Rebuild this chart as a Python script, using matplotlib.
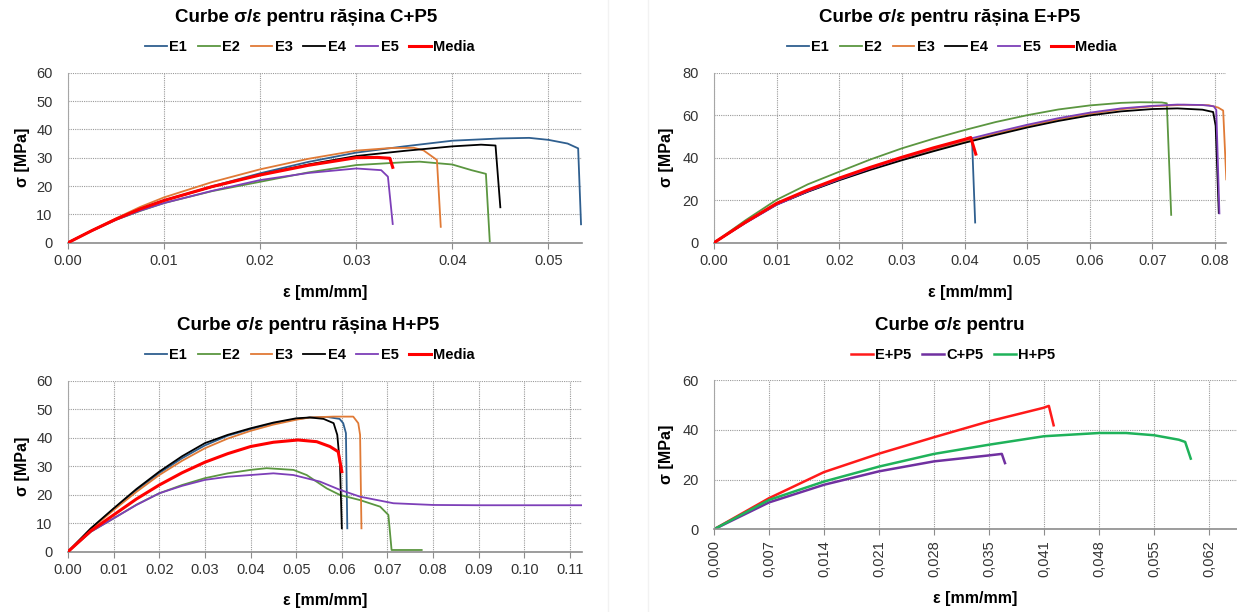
import matplotlib
matplotlib.use('Agg')
import matplotlib.pyplot as plt
from matplotlib.lines import Line2D

plt.rcParams['font.family'] = ['Liberation Sans', 'DejaVu Sans']

# ---------------- C+P5 ----------------
c_e1_x = [0, 0.0025, 0.005, 0.0075, 0.01, 0.015, 0.02, 0.025, 0.03, 0.035, 0.04, 0.045, 0.048, 0.05, 0.052, 0.0531, 0.0534]
c_e1_y = [0, 4.3, 8.4, 12.0, 15.0, 19.9, 24.5, 28.5, 31.8, 34.0, 36.0, 36.8, 37.0, 36.3, 35.0, 33.3, 6.5]
c_e2_x = [0, 0.0025, 0.005, 0.0075, 0.01, 0.015, 0.02, 0.025, 0.03, 0.035, 0.0366, 0.04, 0.042, 0.0435, 0.0439]
c_e2_y = [0, 4.2, 8.1, 11.2, 14.0, 18.2, 21.5, 24.8, 27.4, 28.4, 28.6, 27.6, 25.6, 24.3, 0.5]
c_e3_x = [0, 0.0025, 0.005, 0.0075, 0.01, 0.015, 0.02, 0.025, 0.03, 0.0335, 0.036, 0.037, 0.0384, 0.0388]
c_e3_y = [0, 4.4, 8.6, 12.6, 16.0, 21.4, 25.9, 29.6, 32.5, 33.4, 33.5, 32.6, 29.2, 5.6]
c_e4_x = [0, 0.0025, 0.005, 0.0075, 0.01, 0.015, 0.02, 0.025, 0.03, 0.035, 0.04, 0.043, 0.0445, 0.045]
c_e4_y = [0, 4.3, 8.3, 11.9, 14.9, 19.7, 24.0, 27.6, 30.6, 32.4, 34.0, 34.6, 34.3, 12.5]
c_e5_x = [0, 0.0025, 0.005, 0.0075, 0.01, 0.015, 0.02, 0.025, 0.03, 0.0326, 0.0333, 0.0338]
c_e5_y = [0, 4.2, 8.1, 11.3, 14.0, 18.3, 22.1, 24.6, 26.2, 25.6, 23.3, 6.6]
c_med_x = [0, 0.0025, 0.005, 0.0075, 0.01, 0.015, 0.02, 0.025, 0.03, 0.0322, 0.0335, 0.0338]
c_med_y = [0, 4.3, 8.3, 11.9, 14.9, 19.8, 23.9, 27.3, 30.0, 30.1, 29.8, 26.6]

# ---------------- E+P5 ----------------
e_e1_x = [0, 0.005, 0.01, 0.015, 0.02, 0.025, 0.03, 0.035, 0.04, 0.0412, 0.0417]
e_e1_y = [0, 9.5, 18.0, 24.2, 29.7, 34.7, 39.2, 43.4, 47.3, 48.3, 9.5]
e_e2_x = [0, 0.005, 0.01, 0.015, 0.02, 0.025, 0.03, 0.035, 0.04, 0.045, 0.05, 0.055, 0.06, 0.065, 0.068, 0.0715, 0.0723, 0.073]
e_e2_y = [0, 10.5, 20.2, 27.5, 33.4, 39.2, 44.4, 48.9, 53.0, 56.8, 60.0, 62.7, 64.6, 65.8, 66.1, 66.0, 65.6, 13.1]
e_e3_x = [0, 0.005, 0.01, 0.015, 0.02, 0.025, 0.03, 0.035, 0.04, 0.045, 0.05, 0.055, 0.06, 0.065, 0.07, 0.075, 0.079, 0.0805, 0.0813, 0.0818]
e_e3_y = [0, 9.4, 18.0, 24.2, 29.6, 34.6, 39.2, 43.5, 47.5, 51.3, 54.9, 58.0, 60.7, 62.8, 64.2, 64.9, 64.7, 63.6, 62.2, 29.8]
e_e4_x = [0, 0.005, 0.01, 0.015, 0.02, 0.025, 0.03, 0.035, 0.04, 0.045, 0.05, 0.055, 0.06, 0.065, 0.07, 0.074, 0.078, 0.0797, 0.0801, 0.0806]
e_e4_y = [0, 9.4, 18.0, 24.0, 29.4, 34.3, 38.8, 43.0, 47.0, 50.7, 54.2, 57.3, 59.9, 61.8, 62.9, 63.2, 62.6, 61.5, 55.0, 14.0]
e_e5_x = [0, 0.005, 0.01, 0.015, 0.02, 0.025, 0.03, 0.035, 0.04, 0.045, 0.05, 0.055, 0.06, 0.065, 0.07, 0.074, 0.078, 0.0798, 0.0802, 0.0807]
e_e5_y = [0, 9.2, 17.8, 24.2, 29.8, 35.0, 39.8, 44.2, 48.3, 52.0, 55.5, 58.6, 61.2, 63.2, 64.4, 65.0, 64.8, 64.2, 62.5, 13.8]
e_med_x = [0, 0.005, 0.01, 0.015, 0.02, 0.025, 0.03, 0.035, 0.04, 0.041, 0.0418]
e_med_y = [0, 9.6, 18.5, 24.8, 30.4, 35.5, 40.2, 44.6, 48.6, 49.5, 41.7]

# ---------------- H+P5 ----------------
h_e1_x = [0, 0.005, 0.01, 0.015, 0.02, 0.025, 0.03, 0.035, 0.04, 0.045, 0.05, 0.053, 0.0567, 0.0595, 0.0603, 0.0609, 0.0612]
h_e1_y = [0, 8.0, 15.0, 21.6, 27.6, 32.8, 37.3, 40.7, 43.0, 45.0, 46.5, 47.1, 47.3, 46.6, 45.1, 41.6, 8.2]
h_e2_x = [0, 0.005, 0.01, 0.015, 0.02, 0.025, 0.03, 0.035, 0.04, 0.0435, 0.0494, 0.0523, 0.0567, 0.0596, 0.064, 0.0684, 0.0702, 0.0709, 0.0775]
h_e2_y = [0, 7.0, 11.7, 16.5, 20.5, 23.4, 25.8, 27.5, 28.7, 29.3, 28.7, 26.9, 22.2, 19.9, 18.1, 15.8, 12.9, 0.6, 0.6]
h_e3_x = [0, 0.005, 0.01, 0.015, 0.02, 0.025, 0.03, 0.035, 0.04, 0.045, 0.05, 0.053, 0.0581, 0.0625, 0.0636, 0.064, 0.0643]
h_e3_y = [0, 7.9, 14.6, 21.0, 26.9, 31.9, 36.3, 39.7, 42.4, 44.6, 46.3, 47.1, 47.4, 47.4, 45.1, 41.0, 8.2]
h_e4_x = [0, 0.005, 0.01, 0.015, 0.02, 0.025, 0.03, 0.035, 0.04, 0.045, 0.05, 0.053, 0.056, 0.0582, 0.059, 0.0596, 0.06]
h_e4_y = [0, 8.2, 15.2, 22.0, 28.1, 33.5, 38.1, 41.0, 43.3, 45.3, 46.8, 47.1, 46.6, 45.1, 41.0, 30.4, 8.2]
h_e5_x = [0, 0.005, 0.01, 0.015, 0.02, 0.025, 0.03, 0.035, 0.04, 0.045, 0.0494, 0.0552, 0.0596, 0.064, 0.0713, 0.08, 0.09, 0.1125]
h_e5_y = [0, 7.0, 11.7, 16.4, 20.5, 23.1, 25.2, 26.3, 26.9, 27.5, 26.9, 24.6, 21.7, 19.3, 17.0, 16.4, 16.3, 16.3]
h_med_x = [0, 0.005, 0.01, 0.015, 0.02, 0.025, 0.03, 0.035, 0.04, 0.045, 0.0504, 0.0545, 0.0574, 0.0592, 0.0596, 0.06]
h_med_y = [0, 7.3, 12.9, 18.5, 23.4, 27.7, 31.4, 34.4, 36.9, 38.4, 39.2, 38.6, 36.9, 35.1, 31.6, 28.1]

# ---------------- comparatie medii ----------------
cmp_e_x = [0, 0.0069, 0.0138, 0.0207, 0.0276, 0.0345, 0.0413, 0.042, 0.0426]
cmp_e_y = [0, 12.5, 23.0, 30.4, 37.0, 43.4, 48.8, 49.6, 41.8]
cmp_c_x = [0, 0.0069, 0.0138, 0.0207, 0.0276, 0.0345, 0.0361, 0.0365]
cmp_c_y = [0, 10.8, 17.9, 23.3, 27.3, 29.7, 30.3, 26.6]
cmp_h_x = [0, 0.0069, 0.0138, 0.0207, 0.0276, 0.0345, 0.0414, 0.0483, 0.0517, 0.0552, 0.0583, 0.0591, 0.0598]
cmp_h_y = [0, 11.8, 19.2, 25.2, 30.3, 34.0, 37.4, 38.7, 38.7, 37.8, 36.0, 35.1, 28.4]

cmp_ticks = [0, 0.0069, 0.0138, 0.0207, 0.0276, 0.0345, 0.0414, 0.0483, 0.0552, 0.0621]
cmp_ticklabels = ['0,000', '0,007', '0,014', '0,021', '0,028', '0,035', '0,041', '0,048', '0,055', '0,062']

names = ['E1', 'E2', 'E3', 'E4', 'E5', 'Media']
colors = ['#2f5f8f', '#5b9640', '#e07a36', '#000000', '#7d3fb8', '#ff0000']

W, H = 1237, 612
fig = plt.figure(figsize=(W / 100, H / 100), dpi=100)


def box(l, t, r, b):
    return [l / W, 1 - b / H, (r - l) / W, (b - t) / H]


def style(ax, xmax, ymax, ystep, xticks, xlabels, rot=0):
    ax.set_xlim(0, xmax)
    ax.set_ylim(0, ymax)
    ax.set_xticks(xticks)
    ax.set_xticklabels(xlabels, rotation=rot)
    ax.set_yticks(range(0, ymax + 1, ystep))
    ax.grid(True, color='#9a9a9a', linestyle=(0, (1, 1)), linewidth=0.8)
    ax.set_axisbelow(True)
    for s in ['top', 'right']:
        ax.spines[s].set_visible(False)
    ax.spines['left'].set_color('#a6a6a6')
    ax.spines['bottom'].set_color('#8c8c8c')
    ax.spines['bottom'].set_linewidth(1.2)
    ax.tick_params(axis='x', length=4, color='#8c8c8c', labelsize=10.5, labelcolor='#333333', pad=4)
    ax.tick_params(axis='y', length=0, labelsize=10.5, labelcolor='#333333', pad=11)


def head(cx, cy, title):
    fig.text(cx / W, 1 - cy / H, title, ha='center', va='center', fontsize=13.5, fontweight='bold')


def legend(cx, cy, handles, labels):
    fig.legend(handles, labels, loc='center', bbox_to_anchor=(cx / W, 1 - cy / H), ncol=len(labels),
               frameon=False, prop=dict(weight='bold', size=10.5), handlelength=1.5,
               handletextpad=0.15, columnspacing=0.75, borderpad=0)


def axis_labels(ax_l, ax_r, ax_t, ax_b, ylab_x, xlab_y):
    fig.text((ax_l + ax_r) / 2 / W, 1 - xlab_y / H, 'ε [mm/mm]', ha='center', va='center',
             fontsize=11.5, fontweight='bold')
    fig.text(ylab_x / W, 1 - (ax_t + ax_b) / 2 / H, 'σ [MPa]', ha='center', va='center',
             rotation=90, fontsize=11.5, fontweight='bold')


def six_curves(ax, xs, ys):
    hs = []
    for i in range(6):
        lw = 2.2 if names[i] == 'Media' else 1.3
        h, = ax.plot(xs[i], ys[i], color=colors[i], linewidth=lw, zorder=3 + i)
        hs.append(h)
    return hs


# faint frames between the chart images
for x in [608, 648]:
    fig.add_artist(Line2D([x / W, x / W], [0, 1], color='#f2f2f2', linewidth=1))

# C+P5
ax1 = fig.add_axes(box(68, 72.7, 581.7, 242.7))
style(ax1, 0.05347, 60, 10, [0, 0.01, 0.02, 0.03, 0.04, 0.05], ['0.00', '0.01', '0.02', '0.03', '0.04', '0.05'])
hs = six_curves(ax1, [c_e1_x, c_e2_x, c_e3_x, c_e4_x, c_e5_x, c_med_x],
                [c_e1_y, c_e2_y, c_e3_y, c_e4_y, c_e5_y, c_med_y])
head(306, 18, 'Curbe σ/ε pentru rășina C+P5')
legend(310, 47, hs, names)
axis_labels(68, 581.7, 72.7, 242.7, 22, 292)

# E+P5
ax2 = fig.add_axes(box(714, 72.7, 1226.3, 242.7))
style(ax2, 0.0818, 80, 20, [0, 0.01, 0.02, 0.03, 0.04, 0.05, 0.06, 0.07, 0.08],
      ['0.00', '0.01', '0.02', '0.03', '0.04', '0.05', '0.06', '0.07', '0.08'])
hs = six_curves(ax2, [e_e1_x, e_e2_x, e_e3_x, e_e4_x, e_e5_x, e_med_x],
                [e_e1_y, e_e2_y, e_e3_y, e_e4_y, e_e5_y, e_med_y])
head(950, 18, 'Curbe σ/ε pentru rășina E+P5')
legend(952, 47, hs, names)
axis_labels(714, 1226.3, 72.7, 242.7, 667, 292)

# H+P5
ax3 = fig.add_axes(box(68, 380.7, 581.7, 551.7))
hticks = [i / 100 for i in range(12)]
style(ax3, 0.11256, 60, 10, hticks, ['%.2f' % t for t in hticks])
hs = six_curves(ax3, [h_e1_x, h_e2_x, h_e3_x, h_e4_x, h_e5_x, h_med_x],
                [h_e1_y, h_e2_y, h_e3_y, h_e4_y, h_e5_y, h_med_y])
head(308, 325, 'Curbe σ/ε pentru rășina H+P5')
legend(310, 355, hs, names)
axis_labels(68, 581.7, 380.7, 551.7, 22, 600)

# comparatie
ax4 = fig.add_axes(box(714, 380, 1237, 529.3))
style(ax4, 0.0656, 60, 20, cmp_ticks, cmp_ticklabels, rot=90)
h1, = ax4.plot(cmp_e_x, cmp_e_y, color='#ff1a1a', linewidth=1.8)
h2, = ax4.plot(cmp_c_x, cmp_c_y, color='#7030a0', linewidth=1.8)
h3, = ax4.plot(cmp_h_x, cmp_h_y, color='#1fb25a', linewidth=1.8)
head(950, 325, 'Curbe σ/ε pentru')
legend(953, 355, [h1, h2, h3], ['E+P5', 'C+P5', 'H+P5'])
axis_labels(714, 1237, 380, 529.3, 667, 598)

fig.savefig('out.png', dpi=100)
